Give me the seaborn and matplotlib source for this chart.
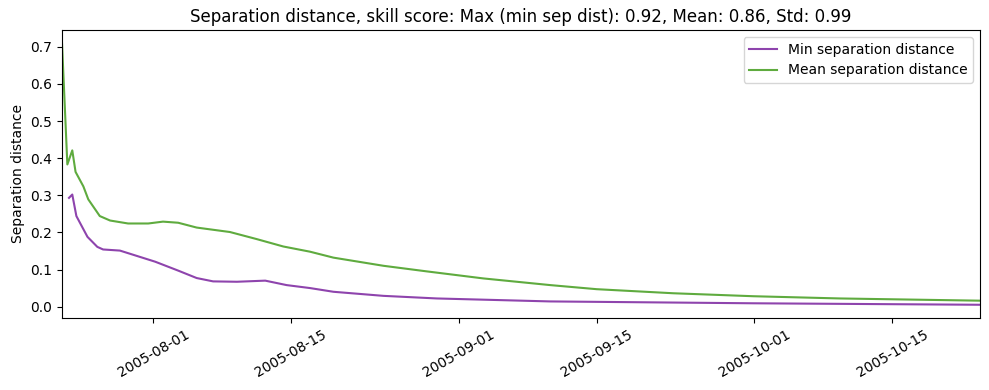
import matplotlib
matplotlib.use("Agg")
import matplotlib.pyplot as plt
import matplotlib.dates as mdates
import pandas as pd
import seaborn as sns

# Mean separation distance series
mean_times = [
    "2005-07-22 18:00", "2005-07-23 07:00", "2005-07-23 19:00", "2005-07-24 03:00",
    "2005-07-24 22:00", "2005-07-25 10:00", "2005-07-26 14:00", "2005-07-27 15:00",
    "2005-07-29 11:00", "2005-07-31 12:00", "2005-08-02 00:00", "2005-08-03 13:00",
    "2005-08-05 10:00", "2005-08-08 19:00", "2005-08-11 12:00", "2005-08-14 05:00",
    "2005-08-16 22:00", "2005-08-19 07:00", "2005-08-24 09:00", "2005-08-28 18:00",
    "2005-09-03 12:00", "2005-09-10 07:00", "2005-09-15 00:00", "2005-09-22 19:00",
    "2005-09-30 22:00", "2005-10-09 17:00", "2005-10-23 22:00",
]
mean_values = [
    0.710, 0.383, 0.421, 0.363,
    0.324, 0.289, 0.244, 0.232,
    0.224, 0.224, 0.229, 0.226,
    0.213, 0.201, 0.182, 0.162,
    0.148, 0.132, 0.110, 0.095,
    0.076, 0.058, 0.047, 0.036,
    0.028, 0.022, 0.016,
]

# Min separation distance series
min_times = [
    "2005-07-23 11:00", "2005-07-23 19:00", "2005-07-24 05:00", "2005-07-24 18:00",
    "2005-07-25 08:00", "2005-07-26 08:00", "2005-07-26 22:00", "2005-07-28 15:00",
    "2005-08-01 05:00", "2005-08-03 13:00", "2005-08-05 10:00", "2005-08-07 02:00",
    "2005-08-09 12:00", "2005-08-12 09:00", "2005-08-14 13:00", "2005-08-16 22:00",
    "2005-08-19 07:00", "2005-08-24 09:00", "2005-08-29 19:00", "2005-09-10 07:00",
    "2005-09-30 21:00", "2005-10-23 22:00",
]
min_values = [
    0.293, 0.302, 0.244, 0.217,
    0.188, 0.161, 0.154, 0.151,
    0.121, 0.097, 0.077, 0.068,
    0.067, 0.070, 0.058, 0.050,
    0.040, 0.029, 0.022, 0.014,
    0.009, 0.005,
]

labels = ["Min separation distance", "Mean separation distance"]
colors = ["#8e44ad", "#5fab3f"]
title = "Separation distance, skill score: Max (min sep dist): 0.92, Mean: 0.86, Std: 0.99"

df = pd.concat([
    pd.DataFrame({"time": pd.to_datetime(min_times), "value": min_values, "series": labels[0]}),
    pd.DataFrame({"time": pd.to_datetime(mean_times), "value": mean_values, "series": labels[1]}),
])

fig, ax = plt.subplots(figsize=(9.89, 3.9), dpi=100)
sns.lineplot(data=df, x="time", y="value", hue="series", hue_order=labels,
             palette=colors, linewidth=1.5, ax=ax, estimator=None)

ax.set_xlim(pd.Timestamp(mean_times[0]), pd.Timestamp(mean_times[-1]))
ax.xaxis.set_major_locator(mdates.DayLocator(bymonthday=[1, 15]))
ax.xaxis.set_major_formatter(mdates.DateFormatter("%Y-%m-%d"))
plt.setp(ax.get_xticklabels(), rotation=30)
ax.set_xlabel("")
ax.set_ylabel("Separation distance")
ax.set_title(title)
ax.legend(loc="upper right", title=None)

fig.subplots_adjust(left=0.0627, right=0.991, top=0.923, bottom=0.185)
fig.savefig("out.png", dpi=100)
